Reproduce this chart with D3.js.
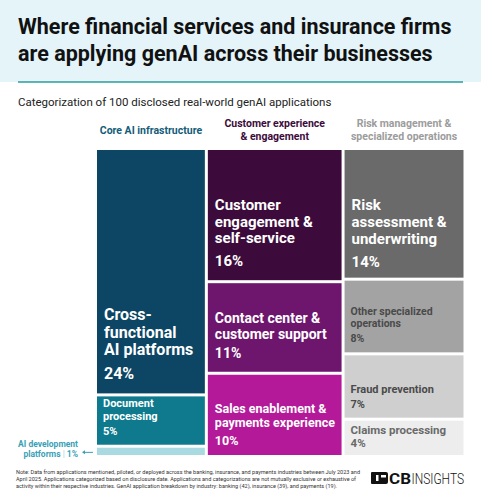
<!DOCTYPE html>
<html><head><meta charset="utf-8">
<script src="https://cdn.jsdelivr.net/npm/d3@7"></script>
<style>
html,body{margin:0;padding:0;background:#fff;}
svg{display:block;font-family:Roboto,"Noto Sans",sans-serif;}
</style></head>
<body>
<svg id="c" width="481" height="500"></svg>
<script>
// ---- data ----
const groups = ["Core AI infrastructure", "Customer experience & engagement", "Risk management & specialized operations"];
const groupHeaderLines = [["Core AI infrastructure"], ["Customer experience", "& engagement"], ["Risk management &", "specialized operations"]];
const categories = ["Cross-functional AI platforms", "Document processing", "AI development platforms",
  "Customer engagement & self-service", "Contact center & customer support", "Sales enablement & payments experience",
  "Risk assessment & underwriting", "Other specialized operations", "Fraud prevention", "Claims processing"];
const categoryGroup = [0, 0, 0, 1, 1, 1, 2, 2, 2, 2];
const values = [24, 5, 1, 16, 11, 10, 14, 8, 7, 4];
const labelLines = [["Cross-", "functional", "AI platforms"], ["Document", "processing"], null,
  ["Customer", "engagement &", "self-service"], ["Contact center &", "customer support"], ["Sales enablement &", "payments experience"],
  ["Risk", "assessment &", "underwriting"], ["Other specialized", "operations"], ["Fraud prevention"], ["Claims processing"]];

// ---- styles ----
const fills = ["#0c4664", "#0f7a8d", "#a9d9e1", "#3c0b3b", "#6e156e", "#b4199a", "#6a6a6a", "#a3a3a3", "#cfcfcf", "#ededed"];
const textFill = ["#fff", "#fff", null, "#fff", "#fff", "#fff", "#fff", "#4a4a4a", "#4a4a4a", "#6a6a6a"];
const fontSize = [16, 11, 0, 15, 14, 12.5, 15, 10.5, 11, 11.5];
const lineH = [17.5, 12.5, 0, 16.6, 15.5, 14.5, 16.6, 12, 11, 11];
const pctGap = [24, 15, 0, 23, 19, 18, 23, 15.5, 15, 13];
const padBottom = [14, 10, 0, 14, 14, 10, 11, 10, 10, 8];
const headerColor = ["#145c78", "#3c0b3b", "#9c9c9c"];
const noteLengths = [344, 340, 321];

const svg = d3.select("#c");

// title band
svg.append("rect").attr("x", 0).attr("y", 0).attr("width", 481).attr("height", 82).attr("fill", "#e4f4f9");
svg.append("line").attr("x1", 18).attr("x2", 463).attr("y1", 82).attr("y2", 82)
  .attr("stroke", "#2a9c9f").attr("stroke-width", 1.6);
const title = svg.append("text").attr("x", 18).attr("font-size", 21.5).attr("font-weight", 700).attr("fill", "#111");
title.append("tspan").attr("x", 18).attr("y", 34).text("Where financial services and insurance firms");
title.append("tspan").attr("x", 18).attr("y", 61).text("are applying genAI across their businesses");
svg.append("text").attr("x", 18).attr("y", 106).attr("font-size", 11.5).attr("fill", "#222")
  .text("Categorization of 100 disclosed real-world genAI applications");

// hierarchy
const hier = {name: "root", children: groups.map((g, gi) => ({
  name: g, gi,
  children: categories.map((c, i) => ({name: c, i, value: values[i]})).filter(d => categoryGroup[d.i] === gi)
}))};
const root = d3.hierarchy(hier).sum(d => d.value || 0);
d3.treemap().size([366.5, 305]).paddingInner(3).tile(d3.treemapSliceDice).round(false)(root);

const g = svg.append("g").attr("transform", "translate(97,150)");

// column headers
root.children.forEach(col => {
  const gi = col.data.gi;
  const lines = groupHeaderLines[gi];
  const cx = (col.x0 + col.x1) / 2;
  const t = g.append("text").attr("text-anchor", "middle").attr("font-size", 10.5).attr("font-weight", 700)
    .attr("fill", headerColor[gi]);
  const base = lines.length === 1 ? -16 : -23.5;
  lines.forEach((l, k) => t.append("tspan").attr("x", cx).attr("y", base + k * 13).text(l));
});

// leaves
const leaves = root.leaves();
g.selectAll("rect.leaf").data(leaves).join("rect").attr("class", "leaf")
  .attr("x", d => d.x0).attr("y", d => d.y0)
  .attr("width", d => d.x1 - d.x0).attr("height", d => d.y1 - d.y0)
  .attr("fill", d => fills[d.data.i]);

leaves.forEach(d => {
  const i = d.data.i;
  const lines = labelLines[i];
  if (!lines) return;
  const x = d.x0 + (fontSize[i] >= 12.5 ? 7 : 6);
  const pctY = d.y1 - padBottom[i];
  const lastY = pctY - pctGap[i];
  const t = g.append("text").attr("font-weight", 700).attr("fill", textFill[i]).attr("font-size", fontSize[i]);
  lines.forEach((l, k) => t.append("tspan").attr("x", x)
    .attr("y", lastY - (lines.length - 1 - k) * lineH[i]).text(l));
  t.append("tspan").attr("x", x).attr("y", pctY).text(values[i] + "%");
});

// AI development platforms callout
const aiLeaf = leaves.find(d => d.data.i === 2);
const ay = 150 + (aiLeaf.y0 + aiLeaf.y1) / 2;
const callout = svg.append("text").attr("text-anchor", "end").attr("font-size", 8.5).attr("font-weight", 700).attr("fill", "#3a9fb5");
callout.append("tspan").attr("x", 78).attr("y", ay - 4).text("AI development");
const l2 = callout.append("tspan").attr("x", 78).attr("y", ay + 6);
l2.append("tspan").text("platforms ");
l2.append("tspan").attr("fill", "#9fd0da").attr("font-weight", 400).text("|");
l2.append("tspan").text(" 1%");
svg.append("line").attr("x1", 83).attr("x2", 93).attr("y1", ay + 1).attr("y2", ay + 1)
  .attr("stroke", "#3a9fb5").attr("stroke-width", 1);
svg.append("path").attr("d", `M82,${ay + 1} l3,-2 v4 z`).attr("fill", "#3a9fb5");

// note
const noteLines = [
  "Note: Data from applications mentioned, piloted, or deployed across the banking, insurance, and payments industries between July 2023 and",
  "April 2025. Applications categorized based on disclosure date. Applications and categorizations are not mutually exclusive or exhaustive of",
  "activity within their respective industries. GenAI application breakdown by industry: banking (42), insurance (39), and payments (19)."];
noteLines.forEach((l, k) => svg.append("text").attr("x", 16).attr("y", 474 + k * 7.2)
  .attr("font-size", 5.8).attr("fill", "#333")
  .attr("textLength", noteLengths[k]).attr("lengthAdjust", "spacingAndGlyphs").text(l));

// logo
const logo = svg.append("g").attr("transform", "translate(371,472)");
logo.append("path").attr("fill", "#111").attr("fill-rule", "evenodd")
  .attr("d", "M1,0 h14 a2,2 0 0 1 2,2 v8 a2,2 0 0 1 -2,2 h-14 a1,1 0 0 1 -1,-1 v-10 a1,1 0 0 1 1,-1 z M5,3 v6 h2.5 v-6 z M10,3 h5 v2.5 h-5 z");
logo.append("text").attr("x", 18).attr("y", 11.5).attr("font-size", 15.5).attr("font-weight", 700).attr("fill", "#111")
  .attr("textLength", 22).attr("lengthAdjust", "spacingAndGlyphs").text("CB");
logo.append("text").attr("x", 40.5).attr("y", 11.5).attr("font-size", 15.5).attr("font-weight", 300).attr("fill", "#111")
  .attr("textLength", 52.5).attr("lengthAdjust", "spacingAndGlyphs").text("INSIGHTS");
</script>
</body></html>
